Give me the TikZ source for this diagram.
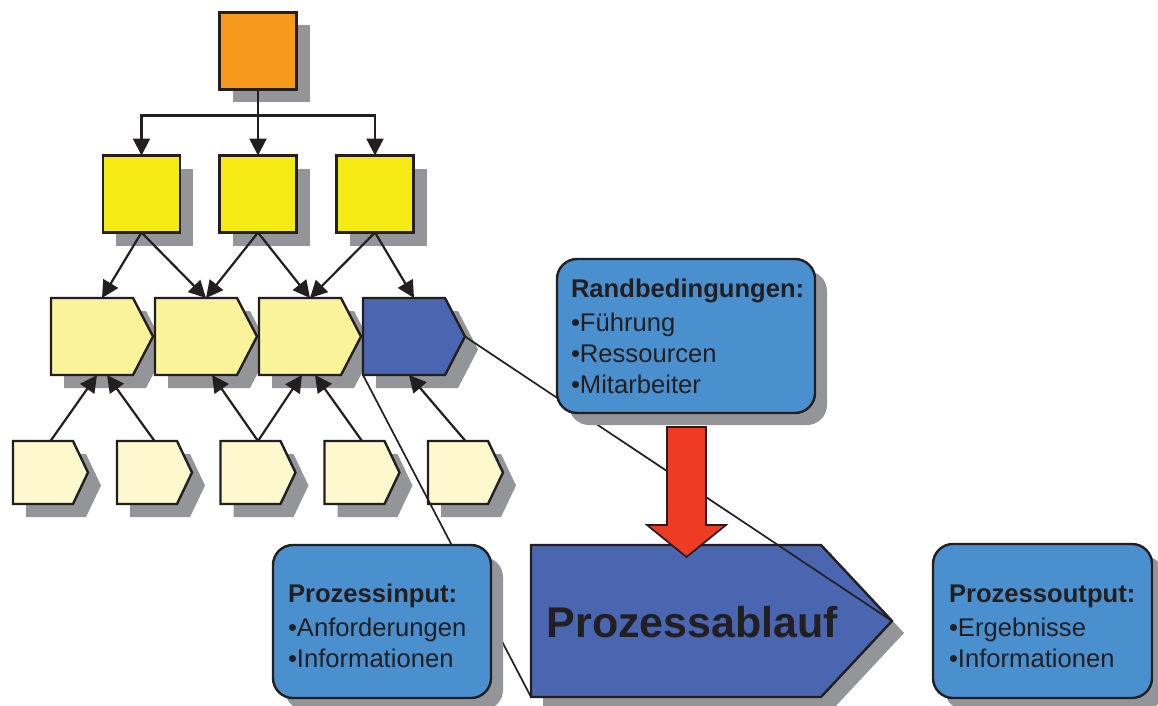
\documentclass[tikz,border=0pt]{standalone}
\usepackage{fontspec}
\setmainfont{Liberation Sans}
\usetikzlibrary{arrows.meta,shadows,calc}
\definecolor{outl}{HTML}{231F20}
\definecolor{shad}{HTML}{939598}
\definecolor{orng}{HTML}{F7991D}
\definecolor{ylw}{HTML}{F5EA14}
\definecolor{midy}{HTML}{FAF39C}
\definecolor{lity}{HTML}{FDF8CE}
\definecolor{chevblue}{HTML}{4A66B0}
\definecolor{boxblue}{HTML}{4A8FCE}
\definecolor{redarr}{HTML}{EE3B23}
% #1 name, #2 centre, #3 width, #4 height, #5 tip depth, #6 fill, #7 shadow offset
\newcommand{\chevron}[7]{%
  \node[anchorbox, minimum width=#3, minimum height=#4] (#1) at (#2) {};
  \fill[shad] ($(#1.north west)+(#7,#7)$) -- ($(#1.north east)+(#7-#5,#7)$) -- ($(#1.east)+(#7,#7)$) -- ($(#1.south east)+(#7-#5,#7)$) -- ($(#1.south west)+(#7,#7)$) -- cycle;
  \draw[outline, fill=#6] (#1.north west) -- ($(#1.north east)+(-#5,0)$) -- (#1.east) -- ($(#1.south east)+(-#5,0)$) -- (#1.south west) -- cycle;
}
\begin{document}
\begin{tikzpicture}[x=1pt,y=-1pt,
  anchorbox/.style={rectangle, inner sep=0pt, outer sep=0pt, draw=none},
  outline/.style={draw=outl, line width=2.4pt},
  sq/.style={rectangle, draw=outl, line width=2.4pt, minimum size=77pt, inner sep=0pt, outer sep=0pt,
    general shadow={fill=shad, shadow xshift=13pt, shadow yshift=-13pt}},
  arr/.style={draw=outl, line width=2.2pt, -{Triangle[length=17pt,width=17pt]}},
  conn/.style={draw=outl, line width=1.7pt},
  infobox/.style={rectangle, draw=outl, line width=2.4pt, fill=boxblue, rounded corners=20pt,
    inner ysep=2pt, outer sep=0pt, align=left, text=outl,
    font=\fontsize{25.6}{31}\selectfont,
    general shadow={fill=shad, shadow xshift=12pt, shadow yshift=-12pt}}]
\fill[white] (0,0) rectangle (1158,706);
\useasboundingbox (0,0) rectangle (1158,706);
\clip (0,0) rectangle (1158,706);

% top levels
\node[sq, fill=orng] (o) at (258,51) {};
\node[sq, fill=ylw] (y1) at (141.5,194) {};
\node[sq, fill=ylw] (y2) at (258,194) {};
\node[sq, fill=ylw] (y3) at (375,194) {};

% middle chevrons
\chevron{m1}{102,336.5}{102}{77}{20}{midy}{13}
\chevron{m2}{206,336.5}{102}{77}{20}{midy}{13}
\chevron{m3}{310,336.5}{102}{77}{20}{midy}{13}
\chevron{m4}{414,336.5}{102}{77}{20}{chevblue}{13}

% bottom chevrons
\chevron{b1}{50.5,472.5}{75}{63}{15}{lity}{13}
\chevron{b2}{154.5,472.5}{75}{63}{15}{lity}{13}
\chevron{b3}{258,472.5}{75}{63}{15}{lity}{13}
\chevron{b4}{362,472.5}{75}{63}{15}{lity}{13}
\chevron{b5}{465.5,472.5}{75}{63}{15}{lity}{13}

% hierarchy arrows
\draw[arr] (o.south) -- (y2.north);
\draw[arr] (o.south) -- ++(0,26) -| (y1.north);
\draw[arr] (o.south) -- ++(0,26) -| (y3.north);
\draw[arr] (y1.south) -- (m1.north);
\draw[arr] (y1.south) -- (m2.north);
\draw[arr] (y2.south) -- (m2.north);
\draw[arr] (y2.south) -- (m3.north);
\draw[arr] (y3.south) -- (m3.north);
\draw[arr] (y3.south) -- (m4.north);
\draw[arr] (b1.north) -- ([xshift=-5pt]m1.south);
\draw[arr] (b2.north) -- ([xshift=5pt]m1.south);
\draw[arr] (b3.north) -- ([xshift=6pt]m2.south);
\draw[arr] (b3.north) -- ([xshift=-8pt]m3.south);
\draw[arr] (b4.north) -- ([xshift=5pt]m3.south);
\draw[arr] (b5.north) -- ([xshift=-5pt]m4.south);

% big process chevron
\chevron{pa}{711.5,621}{361}{152}{71}{chevblue}{12}

% zoom lines
\draw[conn] (m4.south west) -- (pa.south west);
\draw[conn] (m4.east) -- (pa.east);

% info boxes
\node[infobox, minimum width=258pt, minimum height=154pt, inner xsep=14pt, text width=230pt] (rb) at (686,336)
  {{\bfseries Randbedingungen:}\\[3pt]•Führung\\•Ressourcen\\•Mitarbeiter};
\node[infobox, minimum width=218pt, minimum height=153pt, inner xsep=15pt, text width=188pt] (pin) at (382,621.5)
  {{\bfseries\rule{0pt}{28pt}Prozessinput:}\\[3pt]•Anforderungen\\•Informationen};
\node[infobox, minimum width=219pt, minimum height=154pt, inner xsep=16pt, text width=187pt] (pout) at (1042.5,621)
  {{\bfseries\rule{0pt}{28pt}Prozessoutput:}\\[3pt]•Ergebnisse\\•Informationen};

% red block arrow from Randbedingungen to Prozessablauf
\draw[draw=outl, line width=1.7pt, fill=redarr]
  (667,427) -- (706,427) -- (706,525) -- (726,525) -- (686.5,557) -- (647,525) -- (667,525) -- cycle;

% label of big chevron
\node[anchor=base, font=\bfseries\fontsize{43}{50}\selectfont, text=outl, inner sep=0pt] (patext) at (692.5,637) {Prozessablauf};
\end{tikzpicture}
\end{document}
